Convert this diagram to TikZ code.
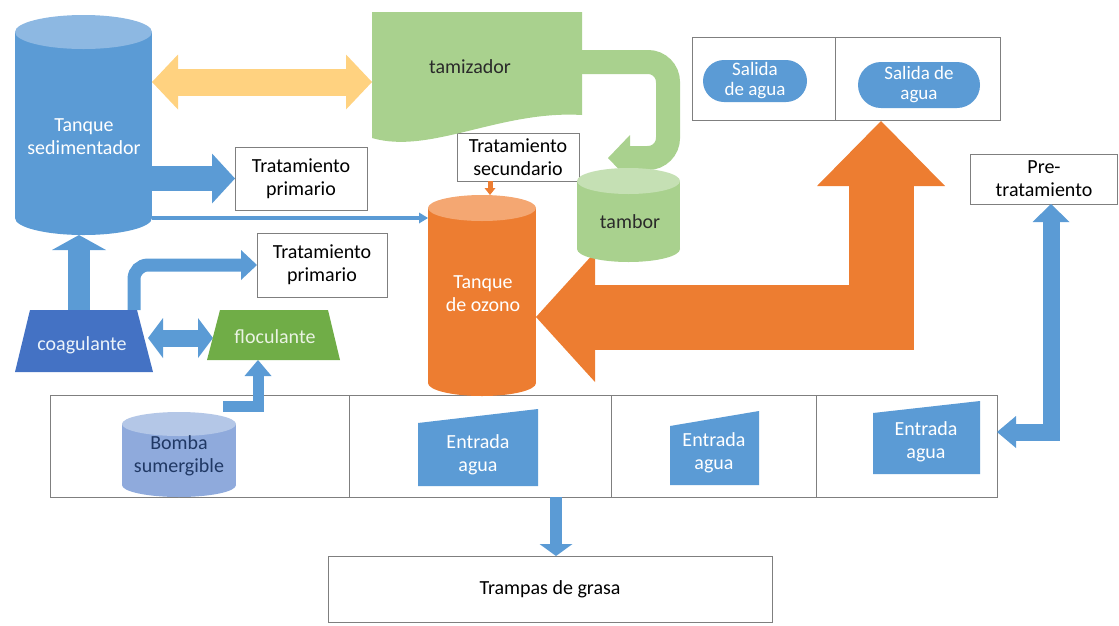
\documentclass[tikz,border=0pt]{standalone}
\usepackage{fontspec}
\setmainfont{Carlito}
\usetikzlibrary{arrows.meta}
\definecolor{oblue}{HTML}{5B9BD5}
\definecolor{oblueL}{HTML}{8DB8E2}
\definecolor{dblue}{HTML}{4472C4}
\definecolor{ogreen}{HTML}{70AD47}
\definecolor{lgreen}{HTML}{A9D18E}
\definecolor{lgreenL}{HTML}{C5E0B4}
\definecolor{orng}{HTML}{ED7D31}
\definecolor{orngL}{HTML}{F4A772}
\definecolor{ylw}{HTML}{FFD280}
\definecolor{lav}{HTML}{8FAADC}
\definecolor{lavL}{HTML}{B4C7E7}
\definecolor{bordr}{HTML}{7F7F7F}
\definecolor{navy}{HTML}{203864}
\definecolor{darktxt}{HTML}{2A2A2A}
\newcommand{\cylshape}[7]{%
  \fill[#6] (#1,#3) rectangle (#2,#4);
  \fill[#6] ({(#1+#2)/2},#4) ellipse [x radius={(#2-#1)/2}, y radius=#5];
  \fill[#7] ({(#1+#2)/2},#3) ellipse [x radius={(#2-#1)/2}, y radius=#5];
}
\tikzset{
  lbl/.style={font=\fontsize{20}{23}\selectfont, align=center, inner sep=0pt},
  slbl/.style={font=\fontsize{19}{20}\selectfont, align=center, inner sep=0pt},
  region/.style={inner sep=0pt, outer sep=0pt, draw=none},
  box/.style={draw=bordr, line width=0.9pt, fill=white, inner sep=0pt, outer sep=0pt},
}
\begin{document}
\begin{tikzpicture}[x=1pt, y=-1pt]
\useasboundingbox (0,0) rectangle (1119,625);

% --- frame boxes
\node[box, minimum width=947pt, minimum height=102pt] (row) at (523.5,446) {};
\draw[bordr, line width=0.9pt] (row.north -| 349,0) -- (row.south -| 349,0);
\draw[bordr, line width=0.9pt] (row.north -| 611,0) -- (row.south -| 611,0);
\draw[bordr, line width=0.9pt] (row.north -| 816,0) -- (row.south -| 816,0);
\node[box, minimum width=308pt, minimum height=83pt] (salb) at (846,78.5) {};
\draw[bordr, line width=0.9pt] (salb.north -| 835,0) -- (salb.south -| 835,0);

% --- regions of shapes
\node[region, minimum width=137pt, minimum height=220pt] (sed) at (83.5,125) {};
\node[region, minimum width=210pt, minimum height=126pt] (tam) at (477,75) {};
\node[region, minimum width=108pt, minimum height=201pt] (oz) at (482,295.5) {};
\node[region, minimum width=103pt, minimum height=94pt] (tmb) at (628.5,215) {};
\node[region, minimum width=138pt, minimum height=62pt] (coag) at (84,341) {};
\node[region, minimum width=133pt, minimum height=50pt] (floc) at (273.5,335) {};
\node[region, minimum width=114pt, minimum height=85pt] (bom) at (179,454.5) {};

% --- text boxes
\node[box, lbl, minimum width=132pt, minimum height=63pt] (tp1) at (301,178.5) {Tratamiento\\primario};
\node[box, lbl, minimum width=130pt, minimum height=64pt] (tp2) at (322,265) {Tratamiento\\primario};
\node[box, lbl, minimum width=122pt, minimum height=48pt] (ts) at (518,157) {Tratamiento\\secundario};
\node[box, lbl, minimum width=147pt, minimum height=50pt] (pre) at (1044,179) {Pre-\\tratamiento};
\node[box, lbl, minimum width=444pt, minimum height=66pt] (trp) at (550,589) {Trampas de grasa};

\coordinate (salTip) at (881,121);
\coordinate (uTip) at (608,158);
\coordinate (cR) at (148,338);
\coordinate (fL) at (213,338);
\coordinate (bS) at (223,406);

% --- connectors
\draw[ylw, line width=27pt, {Triangle[length=26pt,width=55pt,line width=0pt]}-{Triangle[length=26pt,width=55pt,line width=0pt]}]
  (sed.east |- 0,82) -- (tam.west |- 0,82);
\draw[oblue, line width=25pt, -{Triangle[length=23pt,width=50pt,line width=0pt]}]
  (sed.east |- tp1.west) -- (tp1.west);
\draw[oblue, line width=4pt, -{Triangle[length=9pt,width=11pt,line width=0pt]}]
  (sed.east |- 0,218) -- (oz.west |- 0,218);
\draw[lgreen, line width=24pt, rounded corners=20pt, -{Triangle[length=22pt,width=46pt,line width=0pt]}]
  (tam.east |- 0,62) -- (668,62) -- (668,158) -- (uTip);
\draw[orng, line width=5pt, -{Triangle[length=7pt,width=11pt,line width=0pt]}]
  (ts.south -| 490,0) -- (oz.north -| 490,0);
\draw[orng, line width=65pt, line join=miter, {Triangle[length=59pt,width=130pt,line width=0pt]}-{Triangle[length=65pt,width=128pt,line width=0pt]}]
  (oz.east |- 0,317) -| (salTip);
\draw[oblue, line width=17pt, line join=miter, {Triangle[length=19pt,width=32pt,line width=0pt]}-{Triangle[length=18pt,width=37pt,line width=0pt]}]
  (row.east |- 0,432) -| (pre.south -| 1051,0);
\draw[oblue, line width=22pt, -{Triangle[length=15pt,width=54pt,line width=0pt]}]
  (coag.north -| 79,0) -- (sed.south -| 79,0);
\draw[oblue, line width=13pt, rounded corners=14pt, -{Triangle[length=16pt,width=30pt,line width=0pt]}]
  (coag.north -| 134,0) |- (tp2.west);
\draw[oblue, line width=17pt, {Triangle[length=15pt,width=40pt,line width=0pt]}-{Triangle[length=15pt,width=40pt,line width=0pt]}]
  (cR) -- (fL);
\draw[oblue, line width=11pt, line join=miter, -{Triangle[length=16pt,width=27pt,line width=0pt]}]
  (bS) -| (floc.south -| 258,0);
\draw[oblue, line width=12pt, -{Triangle[length=12pt,width=33pt,line width=0pt]}]
  (row.south -| 556,0) -- (trp.north -| 556,0);

% --- shapes
\cylshape{15}{152}{32}{218}{17}{oblue}{oblueL}
\cylshape{428}{536}{208}{383}{13}{orng}{orngL}
\cylshape{577}{680}{181}{249}{13}{lgreen}{lgreenL}
\cylshape{122}{236}{424}{485}{12}{lav}{lavL}
\fill[lgreen] (372,12) -- (582,12) -- (582,115) .. controls (500,110) and (430,155) .. (372,138) -- cycle;
\fill[dblue] (30,310) -- (137,310) -- (153,372) -- (15,372) -- cycle;
\fill[ogreen] (220,310) -- (328,310) -- (340,360) -- (207,360) -- cycle;
\fill[oblue] (418,423) -- (538,409) -- (538,486) -- (418,486) -- cycle;
\fill[oblue] (670,426) -- (759,411) -- (759,485) -- (670,485) -- cycle;
\fill[oblue] (873,413) -- (980,401) -- (980,474) -- (873,474) -- cycle;
\node[region, fill=oblue, rounded corners=21pt, minimum width=104pt, minimum height=42pt] (sal1) at (755,81) {};
\node[region, fill=oblue, rounded corners=23pt, minimum width=122pt, minimum height=46pt] (sal2) at (919,85) {};

% --- texts
\node[lbl, text=white] (sedT) at (84,137) {Tanque\\sedimentador};
\node[lbl, text=darktxt] (tamT) at (470,67) {tamizador};
\node[lbl, text=darktxt] (tmbT) at (630,222) {tambor};
\node[lbl, text=white] (ozT) at (483,294) {Tanque\\de ozono};
\node[lbl, text=white!88!oblue] (coagT) at (82,345) {coagulante};
\node[lbl, text=white!85!ogreen] (flocT) at (275,337) {floculante};
\node[lbl, text=navy] (bomT) at (179,456) {Bomba\\sumergible};
\node[slbl, text=white] at (sal1) {Salida\\de agua};
\node[slbl, text=white] at (sal2) {Salida de\\agua};
\node[lbl, text=white] (e1T) at (478,455) {Entrada\\agua};
\node[lbl, text=white] (e2T) at (714,453) {Entrada\\agua};
\node[lbl, text=white] (e3T) at (926,442) {Entrada\\agua};
\end{tikzpicture}
\end{document}
